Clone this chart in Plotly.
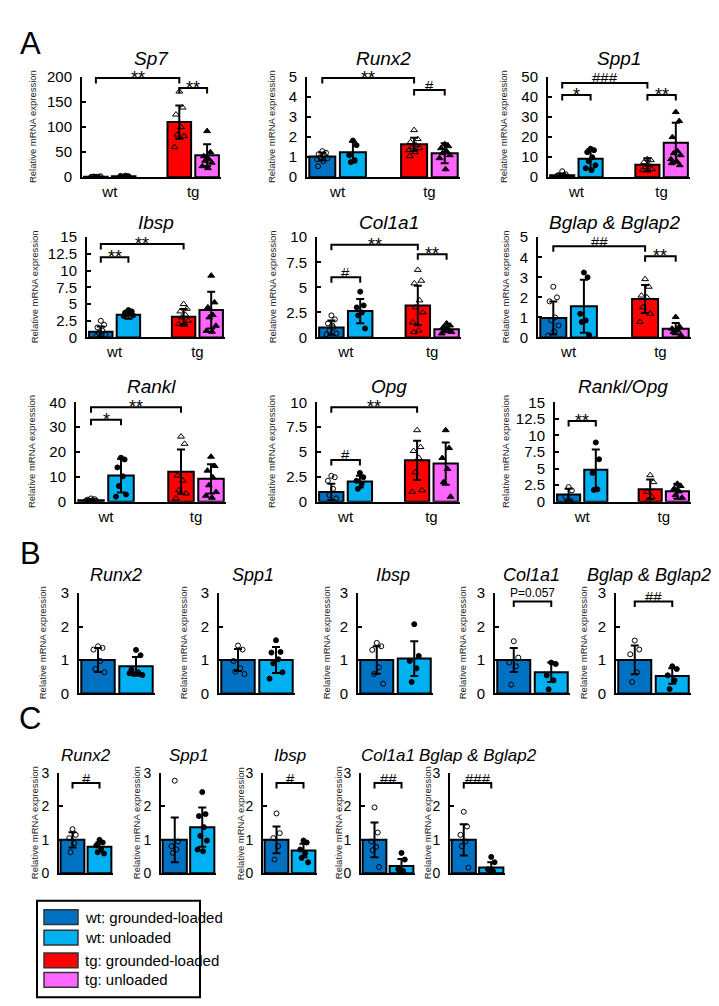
import plotly.graph_objects as go

W, H = 719, 1006
FONT = "Liberation Sans, Arial, sans-serif"
NARROW = "Liberation Sans Narrow, Arial Narrow, Liberation Sans, Arial, sans-serif"

# ---------------- data ----------------
GROUPS = ["wt: grounded-loaded", "wt: unloaded", "tg: grounded-loaded", "tg: unloaded"]
CATEGORIES = ["wt", "tg"]

A_GENES = ["Sp7", "Runx2", "Spp1", "Ibsp", "Col1a1", "Bglap & Bglap2", "Rankl", "Opg", "Rankl/Opg"]
A_YMAX = [200, 5, 50, 15, 10, 5, 40, 10, 15]
A_TICKS = [
    [0, 50, 100, 150, 200],
    [0, 1, 2, 3, 4, 5],
    [0, 10, 20, 30, 40, 50],
    [0, 2.5, 5, 7.5, 10, 12.5, 15],
    [0, 2.5, 5, 7.5, 10],
    [0, 1, 2, 3, 4, 5],
    [0, 10, 20, 30, 40],
    [0, 2.5, 5, 7.5, 10],
    [0, 2.5, 5, 7.5, 10, 12.5, 15],
]
A_MEANS = [
    [1.0, 2.0, 110, 44],
    [1.03, 1.25, 1.64, 1.2],
    [1.0, 9.2, 6.2, 17.2],
    [0.85, 3.4, 3.1, 4.1],
    [0.99, 2.63, 3.19, 0.82],
    [0.97, 1.56, 1.92, 0.44],
    [0.6, 10.5, 12.1, 9.2],
    [0.98, 2.03, 4.16, 3.84],
    [1.08, 4.82, 1.87, 1.57],
]
A_SD = [
    [0.6, 0.8, 33, 22],
    [0.2, 0.52, 0.33, 0.5],
    [0.9, 4.9, 3.3, 10],
    [0.8, 0.6, 1.15, 2.75],
    [0.71, 1.22, 1.97, 0.3],
    [0.82, 1.32, 0.7, 0.28],
    [0.4, 6.8, 8.9, 5.9],
    [0.82, 0.59, 1.97, 2.13],
    [0.89, 3.05, 1.47, 1.13],
]
A_POINTS = [
    [[0.3, 0.6, 0.9, 1.1, 1.4, 2.0, 0.7], [1.0, 1.8, 2.5, 3.2, 1.4, 2.2],
     [171, 139, 125, 100, 85, 82, 60], [92, 50, 42, 36, 33, 29, 22, 18]],
    [[1.3, 1.22, 1.15, 1.08, 1.0, 0.95, 0.9, 0.8, 0.55], [1.83, 1.6, 1.1, 0.85, 0.75],
     [2.35, 1.9, 1.75, 1.6, 1.5, 1.45, 1.35, 1.25, 1.05], [1.65, 1.55, 1.45, 1.3, 1.2, 1.1, 0.95, 0.4]],
    [[3.0, 1.5, 1.0, 0.6, 0.4, 0.2, 0.8], [14.2, 13.5, 12.5, 10, 8, 6, 4.5, 3.5],
     [9, 8.5, 7.5, 6, 5, 4, 3.5], [32.5, 28, 20, 13, 12, 11, 9, 8, 7, 6]],
    [[2.5, 1.9, 1.5, 1.0, 0.7, 0.4, 0.2, 0.5], [4.1, 3.9, 3.7, 3.6, 3.5, 3.3, 3.2],
     [5.0, 4.3, 3.9, 3.4, 3.0, 2.5, 2.0, 1.9], [9.25, 5.25, 4.5, 3.35, 3.0, 1.75, 1.0, 0.85]],
    [[2.2, 1.8, 1.4, 1.0, 0.7, 0.4, 0.3, 1.2], [4.57, 3.2, 3.0, 2.5, 2.2, 0.9],
     [6.74, 5.66, 5.4, 3.7, 3.0, 2.5, 1.5, 0.7, 0.55], [1.4, 1.2, 1.0, 0.8, 0.7, 0.55, 0.4]],
    [[2.53, 2.0, 1.8, 1.0, 0.85, 0.6, 0.1, 0.3], [3.24, 3.0, 1.18, 0.85, 0.77, 0.12],
     [2.91, 2.53, 2.09, 2.0, 1.51, 1.18, 0.77], [1.02, 0.55, 0.44, 0.35, 0.28, 0.12]],
    [[1.3, 1.0, 0.8, 0.6, 0.5, 0.4, 0.3], [17.7, 17.0, 13.8, 10.2, 6.3, 2.9, 2.0],
     [26.2, 23.3, 10.5, 8.5, 4.6, 3.3, 1.3], [18.1, 14.4, 12.5, 9.8, 6.6, 3.9, 2.4, 1.6]],
    [[2.6, 2.46, 2.1, 1.3, 0.66, 0.33], [2.9, 2.46, 2.1, 1.8, 1.3],
     [7.2, 5.5, 5.1, 4.4, 2.95, 1.15, 0.98], [7.2, 5.4, 4.4, 3.3, 1.97, 0.5]],
    [[2.2, 1.7, 0.74, 0.1], [8.95, 6.4, 4.33, 1.87, 1.77],
     [4.0, 2.95, 1.48, 0.74, 0.25], [2.7, 2.36, 1.97, 1.57, 0.98, 0.6]],
]
# (group a, group b, bracket height, label)
A_SIG = [
    [(0, 2, 198, "**"), (2, 3, 178, "**")],
    [(0, 2, 4.95, "**"), (2, 3, 4.35, "#")],
    [(0, 2, 47, "###"), (0, 1, 41, "*"), (2, 3, 41, "**")],
    [(0, 2, 14.0, "**"), (0, 1, 12.0, "**")],
    [(0, 2, 9.25, "**"), (2, 3, 8.3, "**"), (0, 1, 6.0, "#")],
    [(0, 2, 4.55, "##"), (2, 3, 4.05, "**")],
    [(0, 2, 38, "**"), (0, 1, 33, "*")],
    [(0, 2, 9.5, "**"), (0, 1, 4.2, "#")],
    [(0, 1, 12.2, "**")],
]

BC_GENES = ["Runx2", "Spp1", "Ibsp", "Col1a1", "Bglap & Bglap2"]
BC_YMAX = 3
BC_TICKS = [0, 1, 2, 3]

B_MEANS = [[1.0, 0.81], [1.0, 1.0], [1.0, 1.04], [1.0, 0.63], [1.0, 0.52]]
B_SD = [[0.36, 0.28], [0.33, 0.39], [0.41, 0.52], [0.36, 0.29], [0.43, 0.23]]
B_POINTS = [
    [[1.41, 1.36, 1.31, 0.97, 0.73, 0.63], [1.3, 1.14, 0.71, 0.63, 0.58, 0.55, 0.6]],
    [[1.43, 1.31, 0.97, 0.75, 0.65, 0.58], [1.59, 1.24, 1.22, 1.02, 0.9, 0.63, 0.44]],
    [[1.51, 1.41, 1.3, 0.78, 0.58, 0.29], [2.07, 1.12, 0.97, 0.75, 0.34]],
    [[1.56, 1.07, 0.92, 0.81, 0.26], [0.92, 0.88, 0.54, 0.39, 0.12]],
    [[1.58, 1.31, 1.17, 0.63, 0.34], [0.81, 0.73, 0.54, 0.39, 0.13]],
]
B_SIG = [[], [], [], [(0, 1, 2.75, "P=0.057")], [(0, 1, 2.75, "##")]]

C_MEANS = [[1.0, 0.79], [1.0, 1.38], [1.0, 0.68], [1.0, 0.22], [1.0, 0.17]]
C_SD = [[0.23, 0.14], [0.67, 0.59], [0.4, 0.2], [0.52, 0.21], [0.47, 0.16]]
C_POINTS = [
    [[1.32, 1.15, 1.05, 0.9, 0.63], [1.0, 0.92, 0.83, 0.73, 0.63, 0.59]],
    [[2.77, 0.95, 0.81, 0.71, 0.61], [2.43, 1.77, 1.71, 1.38, 1.12, 0.98, 0.71, 0.66]],
    [[1.79, 1.2, 1.05, 0.81, 0.41], [0.98, 0.92, 0.71, 0.59, 0.46, 0.33]],
    [[1.97, 1.22, 0.95, 0.79, 0.69, 0.19], [0.61, 0.41, 0.12, 0.07]],
    [[1.84, 1.4, 1.15, 0.95, 0.81, 0.17], [0.49, 0.33, 0.12, 0.07]],
]
C_SIG = [[(0, 1, 2.7, "#")], [], [(0, 1, 2.7, "#")], [(0, 1, 2.7, "##")], [(0, 1, 2.7, "###")]]

Y_TITLE = "Relative mRNA expression"

# ---------------- styles / layout positions ----------------
COLORS = ["#0070C0", "#00B0F0", "#FF0000", "#FF66FF"]
SYMBOLS = ["circle-open", "circle", "triangle-up-open", "triangle-up"]
JITTER = [0.0, 0.12, -0.12, 0.06, -0.07, 0.17, -0.17, 0.03, -0.14, 0.14, -0.03]

A_POS = [0, 1, 3, 4]
BC_POS = [0, 1]

# pixel boxes: left, right, top, bottom
A_BOX = [(74, 213, 61, 163), (299, 452, 61, 163), (540, 682, 61, 163),
         (79, 217, 224, 326), (309, 453, 224, 326), (530, 683, 224, 326),
         (68, 218, 392, 493), (309, 452, 392, 493), (547, 683, 392, 493)]
A_TITLE_Y = [42, 42, 42, 209, 209, 209, 376, 376, 376]
A_YLAB_X = [24, 263, 495, 26, 264, 497, 23, 263, 497]
B_BOX = [(71, 147, 586, 688), (211, 287, 586, 688), (350, 425, 586, 688),
         (487, 562, 586, 688), (608, 683, 586, 688)]
B_TITLE_X = [108, 245, 385, 523, 641]
B_YLAB_X = [34, 175, 318, 454, 575]
C_BOX = [(51, 105, 769, 871), (153, 208, 769, 871), (255, 309, 769, 871),
         (353, 407, 769, 871), (442, 497, 769, 871)]
C_YLAB_X = [26, 128, 232, 330, 419]

fig = go.Figure()
layout = {}
shapes = []
annotations = []
counter = [0]


def px(x):
    return x / W


def py(y):
    return 1 - y / H


def add_panel(gene, means, sds, pts, ymax, ticks, sig, positions, groups, box,
              title_y, ylab_x, xlabels, title_font, title_size, tick_size, bar_w, narrow_sig,
              title_x=None):
    counter[0] += 1
    k = counter[0]
    xa = "x" if k == 1 else f"x{k}"
    ya = "y" if k == 1 else f"y{k}"
    left, right, top, bottom = box
    xr = [-0.5, positions[-1] + 0.5]

    layout["xaxis" if k == 1 else f"xaxis{k}"] = dict(
        domain=[px(left), px(right)], range=xr, anchor=ya, showline=True,
        linewidth=2, linecolor="black", showgrid=False, zeroline=False,
        ticks="", tickvals=[0.5, 3.5] if xlabels else [],
        ticktext=xlabels if xlabels else [], showticklabels=bool(xlabels),
        tickfont=dict(family=FONT, size=15, color="black"), fixedrange=True)
    layout["yaxis" if k == 1 else f"yaxis{k}"] = dict(
        domain=[py(bottom), py(top)], range=[0, ymax], anchor=xa, showline=True,
        linewidth=2, linecolor="black", showgrid=False, zeroline=False,
        ticks="inside", ticklen=4, tickwidth=1.5, tickcolor="black",
        tickvals=ticks, ticktext=[f"{t:g}" for t in ticks],
        tickfont=dict(family=FONT, size=tick_size, color="black"),
        ticklabelstandoff=5, fixedrange=True)

    fig.add_trace(go.Bar(
        x=positions, y=means, width=bar_w,
        marker=dict(color=[COLORS[g] for g in groups], line=dict(color="black", width=2)),
        error_y=dict(type="data", array=sds, visible=True, color="black", thickness=2, width=4),
        xaxis=xa, yaxis=ya, hoverinfo="skip"))

    for i, g in enumerate(groups):
        vals = pts[i]
        xs = [positions[i] + JITTER[j % len(JITTER)] for j in range(len(vals))]
        tri = "triangle" in SYMBOLS[g]
        fig.add_trace(go.Scatter(
            x=xs, y=vals, mode="markers", xaxis=xa, yaxis=ya, hoverinfo="skip",
            marker=dict(symbol=SYMBOLS[g], size=6 if tri else 5, color="black",
                        line=dict(color="black", width=1))))

    drop = 0.055 * ymax
    for a, b, h, label in sig:
        x1, x2 = positions[a], positions[b]
        shapes.append(dict(type="path", xref=xa, yref=ya,
                           path=f"M{x1},{h - drop} L{x1},{h} L{x2},{h} L{x2},{h - drop}",
                           line=dict(color="black", width=2)))
        if "P" in label:
            size, shift, fam = 12, 8, FONT
        elif "*" in label:
            size, shift, fam = 18, 0, FONT
        else:
            size, shift, fam = 15, 5, (NARROW if narrow_sig else FONT)
        annotations.append(dict(x=(x1 + x2) / 2, y=h, xref=xa, yref=ya, text=label,
                                showarrow=False, yanchor="middle", yshift=shift,
                                font=dict(family=fam, size=size, color="black")))

    tx = title_x if title_x is not None else (left + right) / 2
    annotations.append(dict(x=px(tx), y=py(title_y), xref="paper", yref="paper",
                            text=f"<i>{gene}</i>", showarrow=False, xanchor="center",
                            yanchor="middle",
                            font=dict(family=title_font, size=title_size, color="black")))
    annotations.append(dict(x=px(ylab_x), y=py((top + bottom) / 2), xref="paper", yref="paper",
                            text=Y_TITLE, showarrow=False, textangle=-90, xanchor="center",
                            yanchor="middle", font=dict(family=FONT, size=9.5, color="#222")))


for i, gene in enumerate(A_GENES):
    add_panel(gene, A_MEANS[i], A_SD[i], A_POINTS[i], A_YMAX[i], A_TICKS[i], A_SIG[i],
              A_POS, [0, 1, 2, 3], A_BOX[i], A_TITLE_Y[i], A_YLAB_X[i], CATEGORIES,
              FONT, 19, 15, 0.85, False)
for i, gene in enumerate(BC_GENES):
    add_panel(gene, B_MEANS[i], B_SD[i], B_POINTS[i], BC_YMAX, BC_TICKS, B_SIG[i],
              BC_POS, [0, 1], B_BOX[i], 568, B_YLAB_X[i], None, FONT, 18, 15, 0.88, False,
              title_x=B_TITLE_X[i])
for i, gene in enumerate(BC_GENES):
    add_panel(gene, C_MEANS[i], C_SD[i], C_POINTS[i], BC_YMAX, BC_TICKS, C_SIG[i],
              BC_POS, [0, 1], C_BOX[i], 751, C_YLAB_X[i], None, NARROW, 17, 14, 0.88, True)

# panel letters
for letter, (lx, ly) in zip(["A", "B", "C"], [(22, 27), (22, 546), (22, 714)]):
    annotations.append(dict(x=px(lx), y=py(ly), xref="paper", yref="paper", text=letter,
                            showarrow=False, xanchor="center", yanchor="middle",
                            font=dict(family=FONT, size=31, color="black")))

# legend box
shapes.append(dict(type="rect", xref="paper", yref="paper", x0=px(29), x1=px(192),
                   y0=py(997), y1=py(899), line=dict(color="black", width=2),
                   fillcolor="white"))
LEG_ROWS = [(908, 923), (929, 944), (952, 967), (972, 987)]
for g, (t, b) in enumerate(LEG_ROWS):
    shapes.append(dict(type="rect", xref="paper", yref="paper", x0=px(36), x1=px(70),
                       y0=py(b), y1=py(t), line=dict(color="#333", width=1.5),
                       fillcolor=COLORS[g]))
    annotations.append(dict(x=px(75), y=py((t + b) / 2), xref="paper", yref="paper",
                            text=GROUPS[g], showarrow=False, xanchor="left", yanchor="middle",
                            font=dict(family=NARROW, size=15, color="black")))

fig.update_layout(**layout)
fig.update_layout(width=W, height=H, margin=dict(l=0, r=0, t=0, b=0),
                  paper_bgcolor="white", plot_bgcolor="white", showlegend=False,
                  barmode="overlay", shapes=shapes, annotations=annotations,
                  font=dict(family=FONT, color="black"))
fig.write_html("out.html")
